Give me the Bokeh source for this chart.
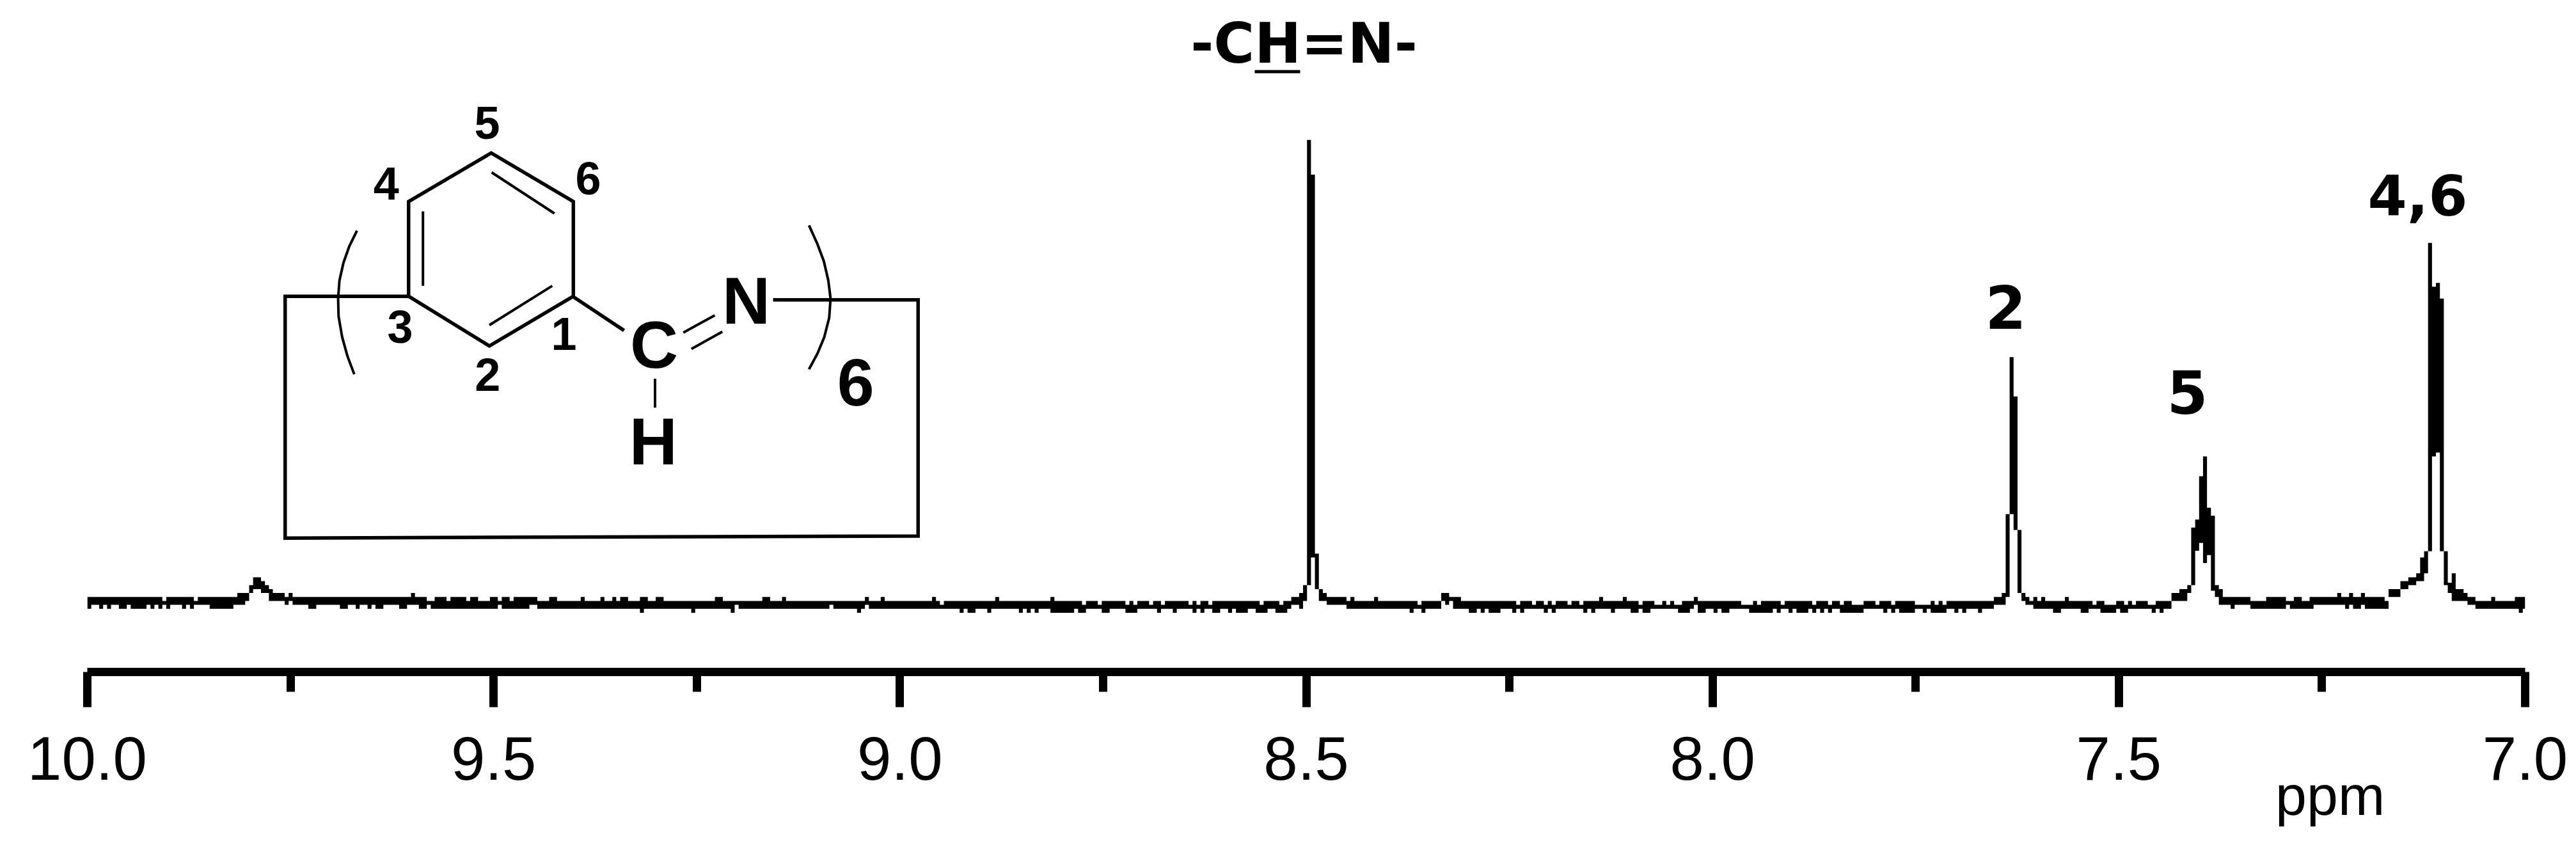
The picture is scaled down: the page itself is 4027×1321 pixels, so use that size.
from bokeh.embed import file_html
from bokeh.resources import INLINE
from bokeh.models import FixedTicker, LinearAxis, PrintfTickFormatter, Range1d
from bokeh.plotting import figure
from bokeh.core.properties import value

ppm_start = 10.0
ppm_end = 7.0
n_points = 618
ppm_per_point = 3.0 / 617.6

# envelope of the raster trace: (first point of the run, intensity held)
top_runs = [
    (0,19),(19,18),(20,19),(27,18),(28,19),(38,20),(41,22),(42,24),(44,23),(45,22),(46,21),(47,20),(50,19),(51,20),(52,19),
    (82,20),(83,19),(86,18),(88,19),(91,18),(92,19),(96,18),(97,19),(99,18),(102,19),(104,18),(105,19),(107,18),(108,19),(114,18),(117,19),(119,18),(125,19),(126,18),(130,19),(131,18),(133,19),(134,18),(135,19),(137,18),(140,19),(142,18),(144,19),(146,18),(159,19),(161,18),(171,19),(173,18),(176,19),(177,18),
    (197,19),(198,18),(201,19),(202,18),(214,19),(215,18),(216,17),(217,18),(230,19),(231,18),(244,19),(245,18),(252,17),(253,18),(256,17),(257,18),(263,17),(264,18),(265,17),(266,18),(269,17),(270,18),(272,17),(273,18),(279,17),(280,18),(281,17),(282,18),(284,17),(285,18),(297,17),(298,18),(302,17),(303,18),(305,19),(307,20),(308,22),(309,134.8),(310,126),(311,30),(312,21),(313,20),(314,19),(319,18),(320,19),(321,18),
    (326,19),(327,18),(337,17),(338,18),(343,20),(345,19),(348,18),(362,17),(363,18),(366,17),(367,18),(369,17),(370,18),(371,17),(372,18),(375,17),(376,18),(378,17),(379,18),(383,19),(384,18),(389,19),(390,18),(393,17),(394,18),(397,17),(399,18),(400,17),(401,18),(402,17),(404,18),(407,19),(408,18),(419,17),(422,18),(423,17),(424,18),(429,17),(430,18),(437,17),(438,18),(441,17),(442,18),(444,17),(445,18),(447,17),(450,18),
    (453,17),(454,18),(457,17),(458,18),(463,17),(467,18),(468,17),(469,18),(470,17),(471,18),(483,19),(485,20),(486,40),(487,79.8),(488,69.8),(489,36),(490,20),(491,19),(492,18),(493,19),(494,18),(495,19),(496,18),
    (501,19),(502,18),(508,17),(509,18),(511,17),(514,18),(516,17),(517,18),(518,17),(519,18),(522,17),(524,18),(528,20),(530,21),(532,22),(533,36.6),(534,38.6),(535,49.6),(536,54.6),(537,41.6),(538,39.6),(539,22),(540,21),(541,19),(548,18),(552,19),(557,18),(559,19),(561,18),(563,19),(570,20),(571,19),(573,20),(574,19),(576,20),(577,19),(582,18),(583,21),(586,23),(588,24),(590,25),(591,29),(592,30.6),(593,108.7),(594,97.6),(595,98.6),(596,94.6),(597,30.6),(598,22.6),(599,25),(600,21),(602,20),(603,19),(605,18),(609,19),(610,18),(615,19),
]
bottom_runs = [
    (0,16),(1,17),(3,16),(4,17),(5,16),(6,17),(8,16),(10,17),(11,16),(15,17),(16,16),(17,17),(18,16),(19,17),(20,16),(21,17),(24,16),(25,17),(26,16),(27,17),(31,16),(37,17),(40,18),(41,20),(42,21),(44,20),(46,18),(50,17),(51,18),(52,17),(56,16),(58,17),(64,16),(66,17),(68,16),(69,17),(71,16),(72,17),(73,16),(75,17),(79,16),
    (81,17),(84,16),(86,17),(87,16),(104,17),(105,16),(112,17),(114,16),(140,15),(141,16),(153,15),(154,16),(163,15),(164,17),(165,16),(188,17),(189,16),
    (195,15),(196,16),(197,17),(198,16),(221,15),(222,16),(223,15),(225,16),(228,15),(229,16),(236,15),(237,16),(238,15),(239,16),(240,15),(241,16),(244,15),(250,16),(251,15),(253,16),(257,15),(259,16),(263,15),(266,16),(271,15),(272,16),(275,15),(276,16),(280,15),(281,16),(282,15),(283,16),(285,15),(287,16),(289,15),(290,16),(291,15),(294,16),(296,15),(299,16),(301,15),(304,16),(305,17),(307,16),(308,18),(309,22),(310,29),(311,21),(312,18),(314,17),(319,16),
    (335,15),(336,16),(338,15),(339,16),(343,18),(344,17),(345,18),(346,16),(350,15),(352,16),(353,15),(354,16),(355,15),(358,16),(361,15),(362,16),(363,15),(364,16),(369,15),(370,16),(371,15),(372,16),(379,15),(380,16),(381,15),(382,16),(386,15),(387,16),(391,15),(393,16),(394,15),(396,16),(403,15),(406,16),(407,17),(408,15),(410,16),(412,15),(413,16),(414,15),(416,16),(421,15),(427,16),(428,15),(429,16),(431,15),(432,16),(433,15),(436,16),(437,15),(438,16),(439,15),(440,16),(441,15),(442,16),(444,15),(450,16),
    (455,15),(456,16),(457,15),(458,16),(459,15),(463,16),(465,15),(466,16),(467,15),(471,16),(473,15),(474,16),(475,15),(476,16),(479,15),(480,16),(483,17),(486,19),(487,40),(488,36),(489,20),(490,18),(491,17),(493,16),
    (498,15),(500,16),(505,15),(507,16),(510,15),(514,16),(515,15),(517,16),(523,15),(524,16),(525,15),(526,16),(528,18),(532,20),(533,22),(534,30.7),(535,32.7),(536,27.6),(537,29.6),(538,20.6),(539,19),(540,17),(543,16),(544,17),(548,16),(557,17),(558,16),(564,17),(572,16),(573,17),(574,16),(576,17),(577,16),(583,19),(586,21),(588,22),(590,23),(592,25),(593,30.6),(594,54.6),(595,55.6),(596,30.6),(597,22),(598,20),(599,18),(603,17),(605,16),(616,15),(617,16),
]

x_major = [10.0, 9.5, 9.0, 8.5, 8.0, 7.5, 7.0]
x_minor = [9.75, 9.25, 8.75, 8.25, 7.75, 7.25]
unit_position = [7.24]

peak_labels = ["-CH=N-", "2", "5", "4,6"]
axis_unit = "ppm"
structure_numbers = ["5", "4", "6", "3", "2", "1"]
structure_atoms = ["C", "N", "H", "6"]


def expand(runs):
    out = []
    for i, (s, v) in enumerate(runs):
        e = runs[i + 1][0] if i + 1 < len(runs) else n_points
        out += [v] * (e - s)
    return out


tops = expand(top_runs)
bottoms = expand(bottom_runs)

xs, y1, y2 = [], [], []
for i in range(n_points):
    a = ppm_start - i * ppm_per_point
    b = max(ppm_end, ppm_start - (i + 1) * ppm_per_point)
    xs += [a, b]
    y1 += [bottoms[i], bottoms[i]]
    y2 += [tops[i], tops[i]]

# ---- figure: frame runs from x=136 to 3947 and from the top of the canvas to the axis ----
FW, FH, LEFT, BOTTOM = 3811, 1050, 136, 255
UNIT = 6.17
p = figure(width=LEFT + FW + 72, height=FH + BOTTOM, frame_width=FW, frame_height=FH,
           x_range=Range1d(ppm_start, ppm_end), y_range=Range1d(0, FH / UNIT),
           output_backend="svg", toolbar_location=None, x_axis_location=None, y_axis_location=None,
           min_border_left=LEFT, min_border_right=72, min_border_top=0, min_border_bottom=BOTTOM)
p.grid.visible = False
p.outline_line_color = None
p.background_fill_color = "white"
p.border_fill_color = "white"


def X(px):  # picture pixel to ppm
    return ppm_start - (px - LEFT) * (ppm_start - ppm_end) / FW


def Y(px):  # picture pixel to intensity
    return (FH - px) / UNIT


ax = LinearAxis(ticker=FixedTicker(ticks=x_major, minor_ticks=x_minor),
                formatter=PrintfTickFormatter(format="%.1f"))
ax.axis_line_width = 13
ax.axis_line_color = "black"
ax.major_tick_line_width = 13
ax.major_tick_line_color = "black"
ax.major_tick_in = 0
ax.major_tick_out = 55
ax.minor_tick_line_width = 13
ax.minor_tick_line_color = "black"
ax.minor_tick_in = 0
ax.minor_tick_out = 31
ax.major_label_text_font = "Liberation Sans"
ax.major_label_text_font_size = "96px"
ax.major_label_text_color = "black"
ax.major_label_standoff = 46
p.add_layout(ax, "below")

# the unit sits low in the right part of the scale, as one label of its own
unit_ax = LinearAxis(ticker=FixedTicker(ticks=unit_position),
                     major_label_overrides={unit_position[0]: axis_unit})
unit_ax.axis_line_color = None
unit_ax.major_tick_line_color = None
unit_ax.minor_tick_line_color = None
unit_ax.major_tick_out = 0
unit_ax.major_tick_in = 0
unit_ax.minor_tick_out = 0
unit_ax.major_label_text_font = "Liberation Sans"
unit_ax.major_label_text_font_size = "88px"
unit_ax.major_label_text_color = "black"
unit_ax.major_label_standoff = -28
p.add_layout(unit_ax, "below")

p.varea(x=xs, y1=y1, y2=y2, fill_color="black")

# ---- structural formula, drawn in the picture's pixel positions ----
def zx(v):
    return X(380 + v / 1.425)


def zy(v):
    return Y(140 + v / 2.148)


bonds = [
    [(368, 693), (93, 693), (93, 1505), (1503, 1498), (1503, 705), (1180, 705)],
    [(368, 693), (368, 375), (552, 212), (735, 375), (735, 693), (548, 860), (368, 693)],
    [(735, 695), (848, 808)],
]
thin_bonds = [
    [(400, 408), (400, 658)],
    [(553, 277), (693, 415)],
    [(688, 658), (548, 790)],
    [(980, 815), (1050, 757)],
    [(998, 870), (1067, 812)],
    [(917, 970), (917, 1067)],
    [(253, 473), (236, 525), (223, 580), (214, 640), (211, 700), (212, 760), (220, 830), (232, 895), (247, 955)],
    [(1260, 455), (1278, 515), (1293, 575), (1303, 640), (1308, 700), (1305, 765), (1294, 830), (1279, 885), (1260, 938)],
]
p.multi_line([[zx(a) for a, b in s] for s in bonds], [[zy(b) for a, b in s] for s in bonds],
             line_color="black", line_width=5.5, line_join="miter")
p.multi_line([[zx(a) for a, b in s] for s in thin_bonds], [[zy(b) for a, b in s] for s in thin_bonds],
             line_color="black", line_width=4)


def txt(x_px, base_px, s, font, size):
    # the text box sits about 0.37 of the size below the asked baseline
    p.text(x=[X(x_px)], y=[Y(base_px - 0.37 * size)], text=[s], text_font=value(font),
           text_font_size=value(f"{size}px"), text_font_style=value("bold"), text_align="center",
           text_baseline="alphabetic", text_color="black")


def sx(v):
    return 380 + v / 1.425


def sy(v):
    return 140 + v / 2.148


num_pos = [(543, 168), (318, 372), (768, 354), (349, 852), (544, 1014), (714, 877)]
for s, (a, b) in zip(structure_numbers, num_pos):
    txt(sx(a), sy(b), s, "Liberation Sans", 72)
atom_pos = [(915, 938), (1120, 790), (913, 1262), (1364, 1065)]
for s, (a, b) in zip(structure_atoms, atom_pos):
    txt(sx(a), sy(b), s, "Liberation Sans", 104)

# ---- peak assignments ----
txt(2038, 100, peak_labels[0], "DejaVu Sans", 87)
p.line([X(1961), X(2032)], [Y(111.5), Y(111.5)], line_color="black", line_width=5)
txt(3135, 514, peak_labels[1], "DejaVu Sans", 92)
txt(3419, 647, peak_labels[2], "DejaVu Sans", 92)
txt(3779, 337, peak_labels[3], "DejaVu Sans", 88)

open("out.html", "w").write(file_html(p, INLINE))
